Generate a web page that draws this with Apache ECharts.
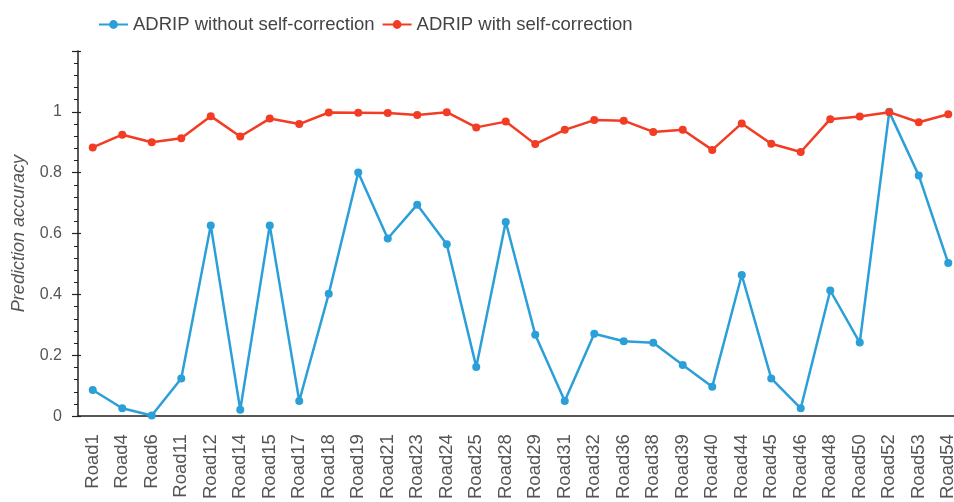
<!DOCTYPE html>
<html>
<head>
<meta charset="utf-8">
<script src="https://cdn.jsdelivr.net/npm/echarts@6/dist/echarts.min.js"></script>
<style>
  html, body { margin: 0; padding: 0; background: #fff; overflow: hidden; width: 954px; height: 502px; }
  /* canvas is a little wider than the window so the last category sits past the right edge */
  #chart { width: 975px; height: 502px; }
</style>
</head>
<body>
<div id="chart"></div>
<script>
// Road segments evaluated
var roads = ['Road1', 'Road4', 'Road6', 'Road11', 'Road12', 'Road14', 'Road15', 'Road17', 'Road18', 'Road19',
  'Road21', 'Road23', 'Road24', 'Road25', 'Road28', 'Road29', 'Road31', 'Road32', 'Road36', 'Road38',
  'Road39', 'Road40', 'Road44', 'Road45', 'Road46', 'Road48', 'Road50', 'Road52', 'Road53', 'Road54'];

// Prediction accuracy per road
var withoutCorrection = [0.086, 0.026, 0.002, 0.124, 0.627, 0.021, 0.627, 0.050, 0.402, 0.801,
  0.584, 0.695, 0.565, 0.162, 0.638, 0.268, 0.050, 0.271, 0.246, 0.241,
  0.168, 0.097, 0.464, 0.124, 0.026, 0.413, 0.242, 1.0, 0.791, 0.503];
var withCorrection = [0.883, 0.925, 0.900, 0.913, 0.986, 0.919, 0.978, 0.960, 0.998, 0.997,
  0.996, 0.990, 0.999, 0.949, 0.968, 0.894, 0.941, 0.973, 0.971, 0.934,
  0.941, 0.875, 0.962, 0.895, 0.868, 0.976, 0.985, 0.999, 0.966, 0.992];

var seriesNames = ['ADRIP without self-correction', 'ADRIP with self-correction'];
var yTicks = { min: 0, max: 1.2, step: 0.2 };

var BLUE = '#2b9fd8';
var RED = '#f23c24';
var FONT = '"Liberation Sans", Arial, sans-serif';

var chart = echarts.init(document.getElementById('chart'), null, { renderer: 'canvas' });

chart.setOption({
  backgroundColor: '#ffffff',
  animation: false,
  textStyle: { fontFamily: FONT },
  legend: {
    top: 10,
    left: 93,
    itemWidth: 29,
    itemHeight: 11,
    itemGap: 7,
    textStyle: { fontSize: 18.5, color: '#444', fontFamily: FONT },
    data: seriesNames
  },
  grid: { left: 78, top: 51, width: 885, height: 367 },
  xAxis: [{
    type: 'category',
    data: roads,
    boundaryGap: true,
    axisLine: { lineStyle: { color: '#222', width: 1.5 } },
    axisTick: { alignWithLabel: true, length: 7, lineStyle: { color: '#222', width: 1.2 } },
    axisLabel: { rotate: 90, interval: 0, fontSize: 18.5, color: '#555', margin: 18, fontFamily: FONT },
    splitLine: { show: false }
  }, {
    type: 'category',
    data: roads,
    boundaryGap: true,
    position: 'bottom',
    axisLine: { show: false },
    axisTick: { alignWithLabel: true, inside: true, length: 4, lineStyle: { color: '#222', width: 1.2 } },
    axisLabel: { show: false },
    splitLine: { show: false }
  }],
  yAxis: [{
    type: 'value',
    min: yTicks.min,
    max: yTicks.max,
    interval: yTicks.step,
    name: 'Prediction accuracy',
    nameLocation: 'middle',
    nameGap: 50,
    nameTextStyle: { fontSize: 18, color: '#555', fontStyle: 'italic', fontFamily: FONT },
    axisLine: { show: true, lineStyle: { color: '#222', width: 1.5 } },
    axisTick: { show: true, length: 6, lineStyle: { color: '#222', width: 1.2 } },
    minorTick: { show: true, splitNumber: 5, length: 4, lineStyle: { color: '#222', width: 1 } },
    axisLabel: {
      fontSize: 16, color: '#555', margin: 16, fontFamily: FONT, showMaxLabel: false,
      formatter: function (v) { return String(Math.round(v * 10) / 10); }
    },
    splitLine: { show: false }
  }, {
    type: 'value',
    min: yTicks.min,
    max: yTicks.max,
    interval: yTicks.step,
    position: 'left',
    axisLine: { show: false },
    axisTick: { show: true, inside: true, length: 3, lineStyle: { color: '#222', width: 1.2 } },
    minorTick: { show: false },
    axisLabel: { show: false },
    splitLine: { show: false }
  }],
  series: [{
    name: seriesNames[0],
    type: 'line',
    data: withoutCorrection,
    symbol: 'circle',
    symbolSize: 8,
    color: BLUE,
    lineStyle: { width: 2.5, color: BLUE },
    itemStyle: { color: BLUE }
  }, {
    name: seriesNames[1],
    type: 'line',
    data: withCorrection,
    symbol: 'circle',
    symbolSize: 8,
    color: RED,
    lineStyle: { width: 2.5, color: RED },
    itemStyle: { color: RED }
  }]
});
</script>
</body>
</html>
